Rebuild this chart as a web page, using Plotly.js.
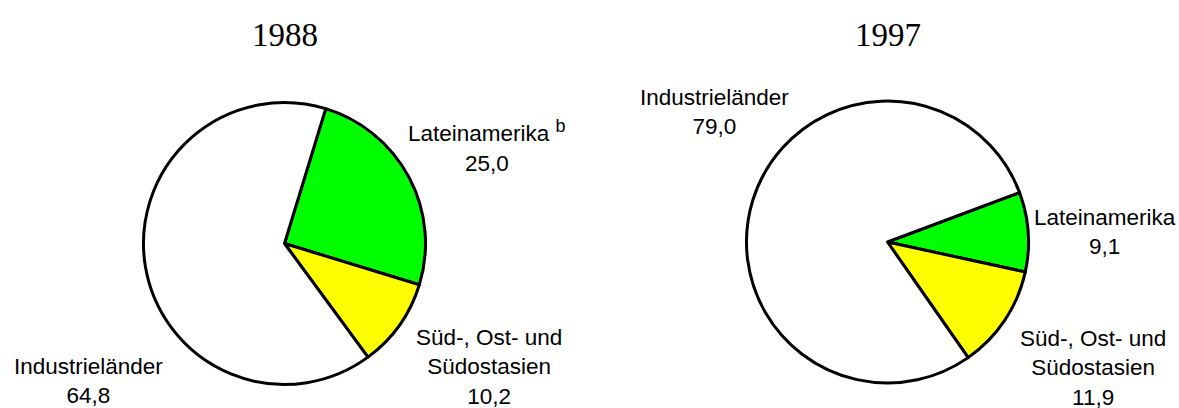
<!DOCTYPE html>
<html>
<head>
<meta charset="utf-8">
<script src="https://cdn.plot.ly/plotly-3.0.1.min.js"></script>
<style>html,body{margin:0;padding:0;background:#fff;}#chart{width:1179px;height:408px;}</style>
</head>
<body>
<div id="chart"></div>
<script>
// Data
const years = ['1988', '1997'];
const regions = ['Lateinamerika', 'Süd-, Ost- und Südostasien', 'Industrieländer'];
const regionLabels = ['Lateinamerika', 'Süd-, Ost- und<br>Südostasien', 'Industrieländer'];
const values1988 = [25.0, 10.2, 64.8];
const values1997 = [9.1, 11.9, 79.0];
const footnotes1988 = ['b', '', ''];
const footnotes1997 = ['', '', ''];
const sliceColors = ['#00ff00', '#ffff00', '#ffffff'];

// Layout (pixels in a 1179x408 page)
const W = 1179, H = 408;
const pies = [
  {values: values1988, notes: footnotes1988, cx: 284.5, cy: 243.5, r: 141, rot: 17,
   labelPos: [[487, 146], [489, 367], [88, 381]]},
  {values: values1997, notes: footnotes1997, cx: 887.5, cy: 242, r: 141, rot: 69.5,
   labelPos: [[1105, 232], [1093, 368], [714, 112]]}
];

function fmt(v) { return v.toFixed(1).replace('.', ','); }

const traces = [];
const annotations = [];
pies.forEach((p, k) => {
  traces.push({
    type: 'pie',
    labels: regions,
    values: p.values,
    sort: false,
    direction: 'clockwise',
    rotation: p.rot,
    textinfo: 'none',
    hoverinfo: 'label+value',
    marker: {colors: sliceColors, line: {color: '#000000', width: 3}},
    domain: {
      x: [(p.cx - p.r) / W, (p.cx + p.r) / W],
      y: [1 - (p.cy + p.r) / H, 1 - (p.cy - p.r) / H]
    },
    showlegend: false
  });
  annotations.push({
    text: years[k], xref: 'paper', yref: 'paper',
    x: p.cx / W, y: 1 - 35 / H, xanchor: 'center', yanchor: 'middle',
    showarrow: false,
    font: {family: '"Liberation Serif", "Times New Roman", serif', size: 33, color: '#000'}
  });
  regionLabels.forEach((lab, i) => {
    const note = p.notes[i] ? ' <sup><span style="font-size:18px">' + p.notes[i] + '</span></sup>' : '';
    annotations.push({
      text: lab + note + '<br>' + fmt(p.values[i]),
      xref: 'paper', yref: 'paper',
      x: p.labelPos[i][0] / W, y: 1 - p.labelPos[i][1] / H,
      xanchor: 'center', yanchor: 'middle', align: 'center',
      showarrow: false,
      font: {family: '"Liberation Sans", Arial, sans-serif', size: 22.5, color: '#000'}
    });
  });
});

const layout = {
  width: W, height: H,
  margin: {l: 0, r: 0, t: 0, b: 0},
  paper_bgcolor: '#ffffff',
  plot_bgcolor: '#ffffff',
  showlegend: false,
  annotations: annotations
};

Plotly.newPlot('chart', traces, layout, {displayModeBar: false, staticPlot: true});
</script>
</body>
</html>
